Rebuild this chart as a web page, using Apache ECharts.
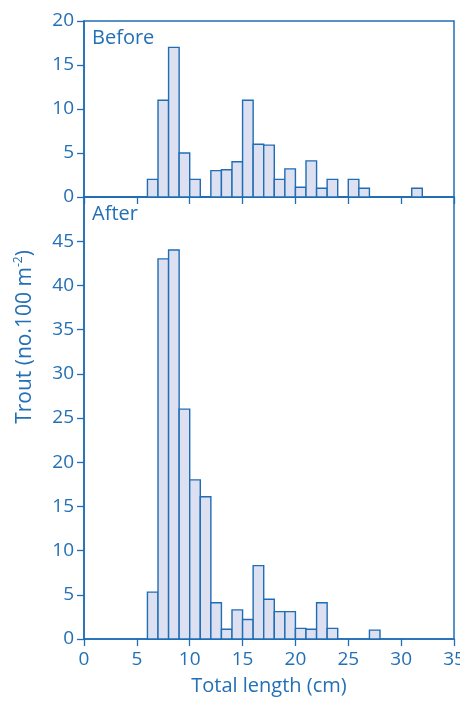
<!DOCTYPE html>
<html>
<head>
<meta charset="utf-8">
<script src="https://cdn.jsdelivr.net/npm/echarts@6/dist/echarts.min.js"></script>
<style>html,body{margin:0;padding:0;background:#fff;overflow:hidden;}#c{width:460px;height:701px;}</style>
</head>
<body>
<div id="c"></div>
<script>
// Bin lower edges (cm), bin width 1 cm
const binStarts = [6,7,8,9,10,11,12,13,14,15,16,17,18,19,20,21,22,23,24,25,26,27,28,29,30,31];
const beforeCounts = [2,11,17,5,2,0,3,3.1,4,11,6,5.9,2,3.2,1.1,4.1,1,2,0,2,1,0,0,0,0,1];
const afterCounts  = [5.3,43,44,26,18,16.1,4.1,1.1,3.3,2.2,8.3,4.5,3.1,3.1,1.2,1.1,4.1,1.2,0,0,0,1,0,0,0,0];
const binWidth = 1;
const xTicks = [0,5,10,15,20,25,30,35];
const beforeYTicks = [0,5,10,15,20];
const afterYTicks = [0,5,10,15,20,25,30,35,40,45];
const panelLabels = ['Before','After'];
const xTitle = 'Total length (cm)';

const BLUE = '#1f6db5';
const TEXT = '#2370b6';
const FILL = '#dce0f0';
const FONT = 'Open Sans';

const chart = echarts.init(document.getElementById('c'), null, {renderer:'canvas'});

function mkData(counts){
  return binStarts.map((s,i)=>[s, counts[i]]).filter(d=>d[1] > 0);
}
function renderBar(params, api){
  const x0 = api.value(0), v = api.value(1);
  const p1 = api.coord([x0, v]);
  const p2 = api.coord([x0 + binWidth, 0]);
  return {type:'rect', shape:{x:p1[0], y:p1[1], width:p2[0]-p1[0], height:p2[1]-p1[1]},
    style:{fill:FILL, stroke:BLUE, lineWidth:1.4}};
}
const axisLine = {show:true, lineStyle:{color:BLUE, width:1.5}};
const axisTick = {show:true, length:7, lineStyle:{color:BLUE, width:1.3}};
const labelStyle = {color:TEXT, fontFamily:FONT, fontSize:19};

chart.setOption({
  animation:false,
  grid:[
    {left:84, width:370, top:21, height:176, show:true, borderColor:BLUE, borderWidth:1.5, outerBoundsMode:'none', containLabel:false},
    {left:84, width:370, top:197, height:442, show:true, borderColor:BLUE, borderWidth:1.5, outerBoundsMode:'none', containLabel:false}
  ],
  xAxis:[
    {gridIndex:0, type:'value', min:xTicks[0], max:xTicks[xTicks.length-1], interval:5,
     axisLine, axisTick, axisLabel:{show:false}, splitLine:{show:false}},
    {gridIndex:1, type:'value', min:xTicks[0], max:xTicks[xTicks.length-1], interval:5,
     axisLine, axisTick, axisLabel:Object.assign({margin:11}, labelStyle), splitLine:{show:false},
     name:xTitle, nameLocation:'middle', nameGap:37,
     nameTextStyle:{color:TEXT, fontFamily:FONT, fontSize:20}}
  ],
  yAxis:[
    {gridIndex:0, type:'value', min:beforeYTicks[0], max:beforeYTicks[beforeYTicks.length-1], interval:5,
     axisLine, axisTick, axisLabel:Object.assign({margin:10}, labelStyle), splitLine:{show:false}},
    {gridIndex:1, type:'value', min:afterYTicks[0], max:50, interval:5,
     axisLine, axisTick, axisLabel:Object.assign({margin:10, showMaxLabel:false}, labelStyle), splitLine:{show:false}}
  ],
  series:[
    {type:'custom', xAxisIndex:0, yAxisIndex:0, renderItem:renderBar, data:mkData(beforeCounts), encode:{x:0,y:1}},
    {type:'custom', xAxisIndex:1, yAxisIndex:1, renderItem:renderBar, data:mkData(afterCounts), encode:{x:0,y:1}}
  ],
  graphic:[
    {type:'text', left:92, top:28, style:{text:panelLabels[0], fill:TEXT, font:'20px "Open Sans"'}},
    {type:'text', left:92, top:204, style:{text:panelLabels[1], fill:TEXT, font:'20px "Open Sans"'}},
    {type:'text', x:25, y:337, rotation:Math.PI/2,
     style:{text:'{a|Trout (no.100 m}{s|-2}{a|)}', align:'center', verticalAlign:'middle',
       rich:{a:{fontSize:21, fontFamily:FONT, fill:TEXT, lineHeight:24},
             s:{fontSize:12, fontFamily:FONT, fill:TEXT, lineHeight:12, verticalAlign:'top'}}}}
  ]
});
</script>
</body>
</html>
